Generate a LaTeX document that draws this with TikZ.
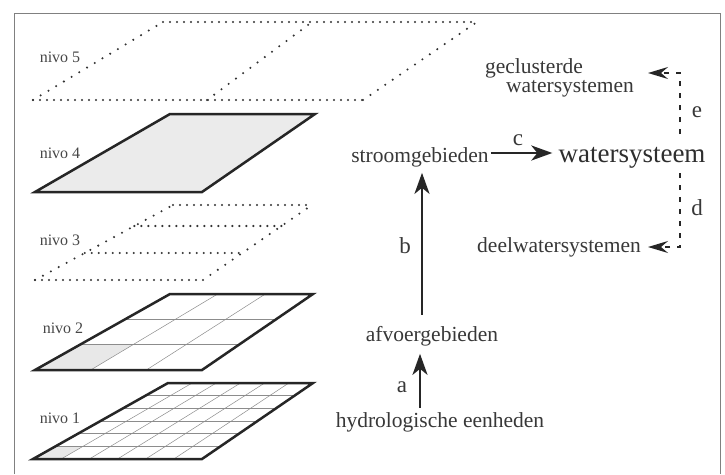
\documentclass[tikz,border=0pt]{standalone}
\usepackage{fontspec}
\setmainfont{Liberation Serif}
\usetikzlibrary{arrows.meta,calc}
\begin{document}
\begin{tikzpicture}[x=1pt,y=-1pt,
  framec/.style={line width=0.8pt, draw=black!50},
  thickedge/.style={line width=2.5pt, line join=miter, draw=black!85},
  doth/.style={line width=2.3pt, line cap=round, dash pattern=on 0pt off 7pt, draw=black!80},
  dotd/.style={line width=2.3pt, line cap=round, dash pattern=on 0pt off 9pt, draw=black!80},
  gridline/.style={line width=0.5pt, draw=black!45},
  cellfill/.style={fill=black!9},
  lbl/.style={font=\fontsize{21.5}{24}\selectfont, text=black!78, inner sep=0pt},
  letter/.style={font=\fontsize{23}{26}\selectfont, text=black!78, inner sep=0pt},
  nivo/.style={font=\fontsize{16}{19}\selectfont, text=black!72, inner sep=0pt},
  big/.style={font=\fontsize{27}{30}\selectfont, text=black!82, inner sep=0pt},
  solidarrow/.style={line width=2.5pt, draw=black!85, -{Stealth[length=21pt,width=15pt,inset=6pt]}},
  dasharrow/.style={line width=1.6pt, draw=black!85, dash pattern=on 5pt off 7pt, -{Stealth[length=20pt,width=12pt,inset=7pt]}},
]
\useasboundingbox (0,0) rectangle (725,474);
\fill[white] (0,0) rectangle (725,474);
\draw[framec] (14,474) -- (14,13) -- (720,13) -- (720,474);

% ---------- nivo 5
\coordinate (n5a) at (33,100); \coordinate (n5m) at (207,100); \coordinate (n5b) at (363,100);
\coordinate (n5d) at (163,22); \coordinate (n5n) at (312,22); \coordinate (n5c) at (477,22);
\draw[doth] (n5a) -- (n5b);
\draw[doth] (n5d) -- (n5c);
\draw[dotd] (n5a) -- (n5d);
\draw[dotd] (n5m) -- (n5n);
\draw[dotd] (n5b) -- (n5c);

% ---------- nivo 4
\filldraw[fill=black!8, thickedge] (35,192) -- (202,192) -- (315,114) -- (170,114) -- cycle;

% ---------- nivo 3
\coordinate (n3a) at (35,280); \coordinate (n3b) at (203,280);
\coordinate (n3c) at (312,205); \coordinate (n3d) at (173,205);
\draw[dotd] (n3a) -- (n3d);
\draw[dotd] (n3b) -- (n3c);
\draw[doth] (n3a) -- (n3b);
\draw[doth] (n3d) -- (n3c);
\draw[doth] ($(n3a)!0.36!(n3d)$) -- ($(n3b)!0.36!(n3c)$);
\draw[doth] ($(n3a)!0.72!(n3d)$) -- ($(n3b)!0.72!(n3c)$);

% ---------- nivo 2
\coordinate (n2a) at (35,370); \coordinate (n2b) at (202,370);
\coordinate (n2c) at (313,294); \coordinate (n2d) at (170,294);
\path ($(n2a)!{1/3}!(n2d)$) coordinate (n2l) ($(n2b)!{1/3}!(n2c)$) coordinate (n2r);
\fill[cellfill] (n2a) -- ($(n2a)!{1/3}!(n2b)$) -- ($(n2l)!{1/3}!(n2r)$) -- (n2l) -- cycle;
\foreach \i in {1,2} {
  \draw[gridline] ($(n2a)!{\i/3}!(n2b)$) -- ($(n2d)!{\i/3}!(n2c)$);
  \draw[gridline] ($(n2a)!{\i/3}!(n2d)$) -- ($(n2b)!{\i/3}!(n2c)$);
}
\draw[thickedge] (n2a) -- (n2b) -- (n2c) -- (n2d) -- cycle;

% ---------- nivo 1
\coordinate (n1a) at (33,459); \coordinate (n1b) at (202,459);
\coordinate (n1c) at (313,383); \coordinate (n1d) at (168,383);
\path ($(n1a)!{1/6}!(n1d)$) coordinate (n1l) ($(n1b)!{1/6}!(n1c)$) coordinate (n1r);
\fill[cellfill] (n1a) -- ($(n1a)!{1/6}!(n1b)$) -- ($(n1l)!{1/6}!(n1r)$) -- (n1l) -- cycle;
\foreach \i in {1,...,5} {
  \draw[gridline] ($(n1a)!{\i/6}!(n1b)$) -- ($(n1d)!{\i/6}!(n1c)$);
  \draw[gridline] ($(n1a)!{\i/6}!(n1d)$) -- ($(n1b)!{\i/6}!(n1c)$);
}
\draw[thickedge] (n1a) -- (n1b) -- (n1c) -- (n1d) -- cycle;

% ---------- nivo labels
\node[nivo, anchor=base] (l5) at (60,62) {nivo 5};
\node[nivo, anchor=base] (l4) at (60,158) {nivo 4};
\node[nivo, anchor=base] (l3) at (60,245) {nivo 3};
\node[nivo, anchor=base] (l2) at (63,333) {nivo 2};
\node[nivo, anchor=base] (l1) at (60,423) {nivo 1};

% ---------- right-hand scheme
\node[lbl, anchor=base] (gc1) at (534,73) {geclusterde};
\node[lbl, anchor=base] (gc2) at (570,92) {watersystemen};
\node[lbl, anchor=base] (strm) at (420,162) {stroomgebieden};
\node[big, anchor=base] (ws) at (632,162) {watersysteem};
\node[lbl, anchor=base] (deel) at (559,252) {deelwatersystemen};
\node[lbl, anchor=base] (afv) at (432,341) {afvoergebieden};
\node[lbl, anchor=base] (hyd) at (440,427) {hydrologische eenheden};

\node[letter, anchor=base] (la) at (402,392) {a};
\node[letter, anchor=base] (lb) at (405,253) {b};
\node[letter, anchor=base] (lc) at (518,145) {c};
\node[letter, anchor=base] (ld) at (697,215) {d};
\node[letter, anchor=base] (le) at (697,117) {e};

\coordinate (ax) at (420,0);
\coordinate (bx) at (422,0);
\coordinate (cy) at (0,153);
\draw[solidarrow, shorten <=4pt, shorten >=8pt] (hyd.north -| ax) -- (afv.south -| ax);
\draw[solidarrow, shorten <=11pt, shorten >=6pt] (afv.north -| bx) -- (strm.south -| bx);
\draw[solidarrow, shorten <=2pt, shorten >=6pt] (strm.east |- cy) -- (ws.west |- cy);

\coordinate (estart) at (680,134);
\coordinate (etip) at (648,73);
\coordinate (dstart) at (680,173);
\coordinate (dtip) at (648,247);
\draw[dasharrow] (estart) |- (etip);
\draw[dasharrow] (dstart) |- (dtip);
\end{tikzpicture}
\end{document}
